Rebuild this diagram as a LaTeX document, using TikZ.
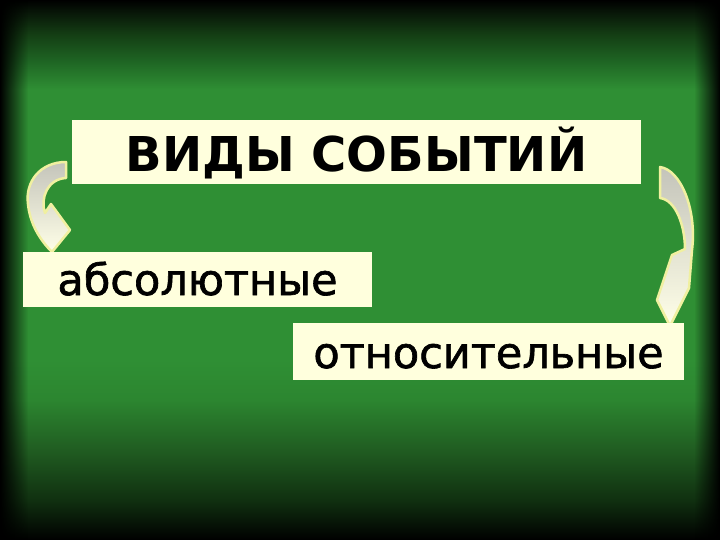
\documentclass[tikz,border=0pt]{standalone}
\usepackage{fontspec}
\setmainfont{DejaVu Sans}
\newfontfamily\kindfont[FakeBold=1.5]{DejaVu Sans}
\usetikzlibrary{fadings}
\definecolor{slgreen}{RGB}{47,143,52}
\definecolor{slgreenA}{RGB}{44,134,48}
\definecolor{slgreenB}{RGB}{32,92,33}
\definecolor{slgreenC}{RGB}{16,48,16}
\definecolor{sltopA}{RGB}{30,100,35}
\definecolor{sltopB}{RGB}{20,62,20}
\definecolor{sltopC}{RGB}{8,22,8}
\definecolor{boxcream}{RGB}{255,255,221}
\definecolor{arrowedge}{RGB}{240,240,160}
\definecolor{arrowgray}{RGB}{196,196,186}
\definecolor{arrowlight}{RGB}{255,255,232}
\pgfdeclareverticalshading{slidebg}{100bp}{color(0bp)=(black); color(25bp)=(black);
  color(28.7bp)=(slgreenC); color(33.3bp)=(slgreenB); color(38bp)=(slgreenA);
  color(41.7bp)=(slgreen); color(66.7bp)=(slgreen); color(69.4bp)=(sltopA);
  color(71.8bp)=(sltopB); color(73.9bp)=(sltopC); color(75bp)=(black); color(100bp)=(black)}
\tikzfading[name=vigleft, left color=transparent!0, middle color=transparent!85, right color=transparent!100]
\tikzfading[name=vigright, left color=transparent!100, middle color=transparent!85, right color=transparent!0]

\begin{document}
\begin{tikzpicture}[x=1pt,y=-1pt,
  catbox/.style={fill=boxcream, inner sep=0pt, text=black},
  bentarrow/.style={draw=arrowedge, line width=2.5pt, line join=round,
    top color=arrowgray, middle color=arrowlight, bottom color=arrowlight}]
  \useasboundingbox (0,0) rectangle (720,540);

  % ---- Slide background ----------------------------------
  \shade[shading=slidebg] (0,0) rectangle (720,540);
  \fill[black, path fading=vigleft] (0,0) rectangle (28,540);
  \fill[black, path fading=vigright] (694,0) rectangle (720,540);

  % ---- Curved arrows --------------------------------------
  % left: from the title down to the first kind
  \draw[bentarrow] (66,162) .. controls (40,162) and (25,182) .. (28,204)
    .. controls (30,224) and (40,240) .. (52,252) -- (70,230) -- (51,204)
    -- (45,213) .. controls (40,199) and (47,179) .. (66,178) -- cycle;
  % right: from the title down to the second kind
  \draw[bentarrow] (660,167) .. controls (681,170) and (697,210) .. (692,250)
    -- (689,288) -- (670,326) -- (657,300) -- (672,255) -- (685,249)
    .. controls (685,226) and (676,200) .. (660,198) -- cycle;

  % ---- Boxes ----------------------------------------------
  \node[catbox, minimum width=569pt, minimum height=64pt,
    text height=45pt, text depth=5pt,
    font=\fontsize{48}{54}\selectfont\bfseries] (kinds) at (356.5,152)
    {ВИДЫ СОБЫТИЙ};
  \node[catbox, minimum width=349pt, minimum height=55pt,
    text height=34pt, text depth=3pt,
    font=\fontsize{43}{48}\kindfont] (absolute) at (197.5,279.5)
    {абсолютные};
  \node[catbox, minimum width=391pt, minimum height=57pt,
    text height=36pt, text depth=3pt,
    font=\fontsize{43}{48}\kindfont] (relative) at (488.5,351.5)
    {относительные};

\end{tikzpicture}
\end{document}
